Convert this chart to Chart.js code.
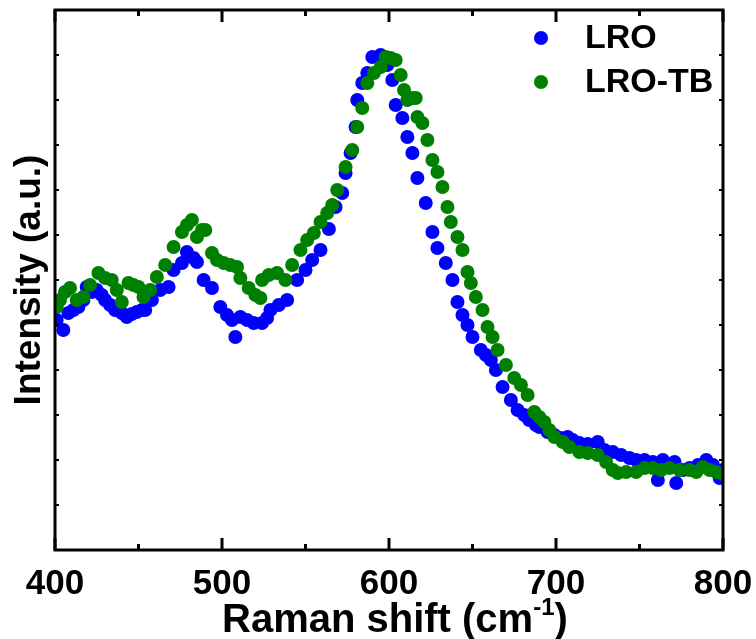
<!DOCTYPE html>
<html>
<head>
<meta charset="utf-8">
<script src="https://cdn.jsdelivr.net/npm/chart.js@4"></script>
<style>
  html, body { margin: 0; padding: 0; background: #fff; }
  canvas { display: block; }
</style>
</head>
<body>
<canvas id="chartRaman" width="756" height="639"></canvas>
<script>
// Raman spectra, intensity in arbitrary units

const seriesLabels = ['LRO', 'LRO-TB'];
const seriesColors = ['#0000ff', '#008000'];

const lroShift = [401, 405, 408, 411, 414, 417, 419, 422, 425, 428, 430, 433, 436, 440, 443, 446, 449, 452, 454, 458,
  463, 468, 471, 476, 479, 483, 485, 489, 494, 499, 503, 506, 508, 511, 515, 519, 524, 527, 529, 534,
  539, 545, 550, 554, 559, 564, 568, 572, 574, 577, 580, 581, 584, 587, 590, 595, 599, 602, 604, 608,
  611, 614, 617, 622, 626, 629, 634, 638, 641, 644, 647, 650, 655, 658, 661, 664, 668, 673, 677, 681,
  684, 688, 690, 695, 699, 703, 707, 710, 714, 719, 725, 729, 734, 739, 744, 748, 753, 758, 761, 764,
  768, 771, 772, 776, 780, 785, 790, 794, 798, 800];
const lroIntensity = [230, 220, 237, 240, 243, 250, 263, 258, 260, 255, 250, 245, 240, 237, 233, 236, 238, 240, 240, 250,
  260, 263, 280, 287, 298, 292, 288, 270, 262, 243, 235, 230, 213, 233, 230, 227, 227, 232, 240, 245,
  250, 270, 280, 290, 300, 321, 343, 357, 377, 397, 423, 450, 467, 477, 493, 495, 485, 470, 445, 432,
  413, 397, 372, 347, 318, 302, 287, 270, 248, 235, 225, 213, 200, 195, 190, 180, 163, 150, 140, 135,
  130, 125, 123, 118, 115, 112, 113, 110, 107, 106, 108, 100, 98, 95, 92, 90, 90, 88, 70, 90,
  85, 88, 67, 80, 82, 85, 90, 85, 72, 80];

const tbShift = [401, 403, 406, 409, 413, 417, 421, 426, 430, 434, 437, 440, 444, 447, 450, 453, 457, 461, 466, 471,
  476, 479, 482, 485, 488, 490, 494, 497, 501, 505, 509, 511, 516, 520, 523, 524, 528, 533, 538, 542,
  547, 551, 555, 559, 563, 566, 569, 574, 578, 581, 584, 587, 591, 595, 598, 601, 604, 607, 609, 611,
  614, 616, 617, 620, 623, 626, 629, 632, 635, 637, 641, 644, 647, 649, 652, 656, 659, 662, 665, 670,
  675, 679, 683, 687, 690, 693, 696, 699, 704, 708, 714, 719, 725, 730, 734, 737, 742, 748, 753, 758,
  763, 768, 774, 780, 784, 788, 792, 796, 800];
const tbIntensity = [243, 250, 258, 262, 250, 253, 265, 277, 272, 270, 260, 248, 267, 265, 263, 253, 260, 273, 285, 303,
  318, 325, 330, 313, 320, 320, 297, 290, 287, 285, 283, 272, 262, 255, 252, 270, 275, 277, 270, 285,
  300, 310, 317, 328, 337, 345, 360, 383, 400, 423, 442, 467, 477, 483, 493, 492, 490, 475, 460, 450,
  452, 452, 433, 427, 410, 390, 378, 363, 343, 328, 313, 300, 278, 267, 253, 240, 223, 213, 200, 185,
  172, 165, 155, 138, 133, 128, 120, 113, 108, 103, 98, 97, 95, 88, 80, 77, 78, 78, 82, 82,
  80, 82, 80, 80, 78, 83, 80, 78, 76];

const xMin = 400, xMax = 800, xStep = 50;
const yMin = 0, yMax = 540, yStep = 45;

const xTitle = 'Raman shift (cm';
const xTitleSup = '-1';
const yTitle = 'Intensity (a.u.)';

const FONT = '"Liberation Sans", Arial, sans-serif';

function toPoints(xs, ys) {
  return xs.map((v, i) => ({ x: v, y: ys[i] }));
}

function strokeLine(ctx, x1, y1, x2, y2) {
  ctx.beginPath();
  ctx.moveTo(x1, y1);
  ctx.lineTo(x2, y2);
  ctx.stroke();
}

// box, inward ticks, axis titles and legend
const decorations = {
  id: 'decorations',
  afterDraw(chart) {
    const { ctx, chartArea: a, scales: { x, y } } = chart;
    ctx.save();
    ctx.strokeStyle = '#000';
    ctx.lineWidth = 3;
    ctx.lineCap = 'butt';
    ctx.strokeRect(a.left, a.top, a.right - a.left, a.bottom - a.top);

    x.ticks.forEach(t => {
      const px = x.getPixelForValue(t.value);
      const len = t.value % 100 === 0 ? 12 : 6;
      strokeLine(ctx, px, a.bottom, px, a.bottom - len);
      strokeLine(ctx, px, a.top, px, a.top + len);
    });
    ctx.lineWidth = 2;
    y.ticks.forEach(t => {
      if (t.value <= yMin || t.value >= yMax) return;
      const py = y.getPixelForValue(t.value);
      strokeLine(ctx, a.left, py, a.left + 4, py);
      strokeLine(ctx, a.right, py, a.right - 4, py);
    });

    // x title with superscript
    ctx.fillStyle = '#000';
    ctx.textBaseline = 'alphabetic';
    ctx.textAlign = 'left';
    ctx.font = 'bold 40px ' + FONT;
    const mainW = ctx.measureText(xTitle).width;
    ctx.font = 'bold 24px ' + FONT;
    const supW = ctx.measureText(xTitleSup).width;
    const tx = 222;
    const ty = 632;
    ctx.font = 'bold 40px ' + FONT;
    ctx.fillText(xTitle, tx, ty);
    ctx.font = 'bold 24px ' + FONT;
    ctx.fillText(xTitleSup, tx + mainW, ty - 17);
    ctx.font = 'bold 40px ' + FONT;
    ctx.fillText(')', tx + mainW + supW, ty);

    // y title
    ctx.save();
    ctx.translate(40, (a.top + a.bottom) / 2);
    ctx.rotate(-Math.PI / 2);
    ctx.textAlign = 'center';
    ctx.font = 'bold 37px ' + FONT;
    ctx.fillText(yTitle, 0, 0);
    ctx.restore();

    // legend
    ctx.font = 'bold 34px ' + FONT;
    ctx.textAlign = 'left';
    chart.data.datasets.forEach((ds, i) => {
      const cy = 38 + i * 44;
      ctx.fillStyle = ds.backgroundColor;
      ctx.beginPath();
      ctx.arc(541, cy, 7, 0, Math.PI * 2);
      ctx.fill();
      ctx.fillStyle = '#000';
      ctx.fillText(ds.label, 585, cy + 10);
    });
    ctx.restore();
  }
};

new Chart(document.getElementById('chartRaman'), {
  type: 'scatter',
  data: {
    datasets: [
      {
        label: seriesLabels[0],
        data: toPoints(lroShift, lroIntensity),
        backgroundColor: seriesColors[0],
        borderColor: seriesColors[0],
        pointRadius: 7,
        borderWidth: 0,
        order: 2
      },
      {
        label: seriesLabels[1],
        data: toPoints(tbShift, tbIntensity),
        backgroundColor: seriesColors[1],
        borderColor: seriesColors[1],
        pointRadius: 7,
        borderWidth: 0,
        order: 1
      }
    ]
  },
  options: {
    responsive: false,
    animation: false,
    layout: { padding: { top: 10, right: 33, left: 0, bottom: 0 } },
    plugins: { legend: { display: false }, tooltip: { enabled: false } },
    scales: {
      x: {
        type: 'linear',
        min: xMin,
        max: xMax,
        grid: { display: false },
        border: { display: false },
        afterFit: s => { s.height = 89; s.paddingLeft = 0; s.paddingRight = 0; },
        ticks: {
          stepSize: xStep,
          padding: 5,
          color: '#000',
          font: { family: FONT, size: 35, weight: 'bold' },
          maxRotation: 0,
          autoSkip: false,
          callback: v => (v % 100 === 0 ? v : '')
        }
      },
      y: {
        min: yMin,
        max: yMax,
        grid: { display: false },
        border: { display: false },
        afterFit: s => { s.width = 55; },
        ticks: { stepSize: yStep, display: false }
      }
    }
  },
  plugins: [decorations]
});
</script>
</body>
</html>
